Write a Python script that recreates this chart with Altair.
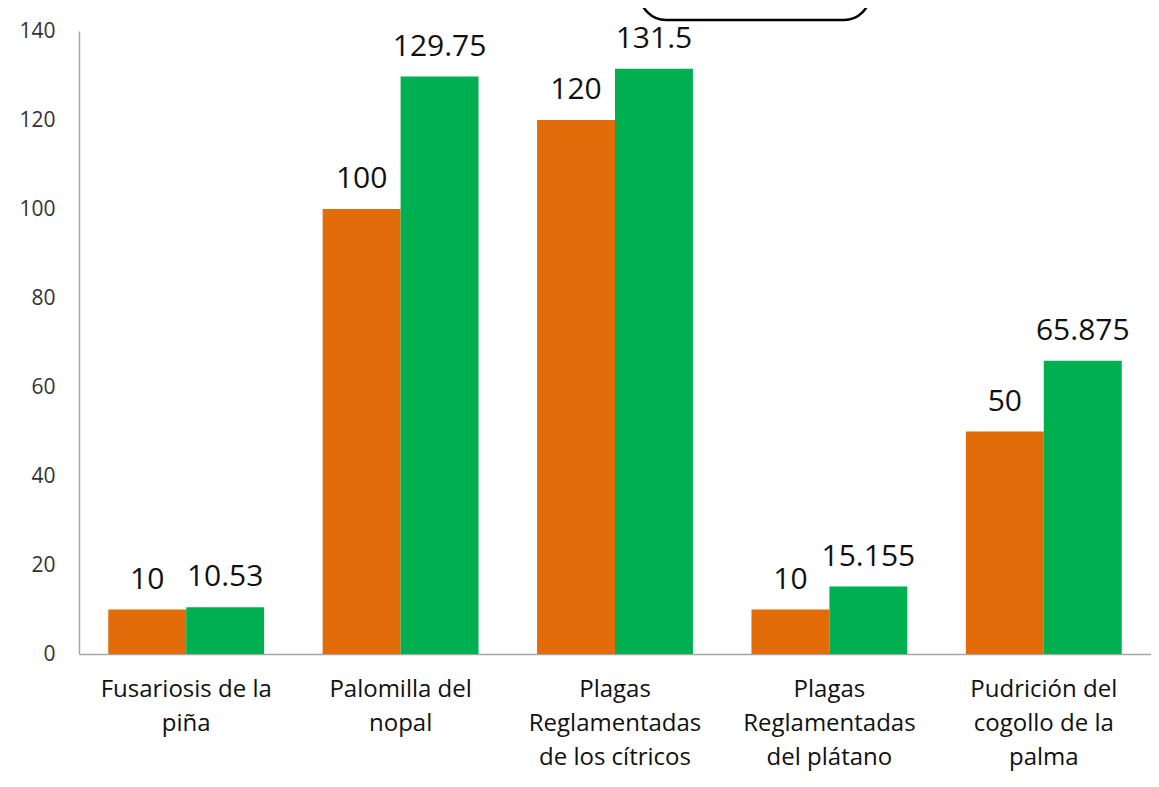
import altair as alt
import pandas as pd

categories = ["Fusariosis de la|piña", "Palomilla del|nopal", "Plagas|Reglamentadas|de los cítricos",
              "Plagas|Reglamentadas|del plátano", "Pudrición del|cogollo de la|palma"]
series_a = [10, 100, 120, 10, 50]
series_b = [10.53, 129.75, 131.5, 15.155, 65.875]
series_names = ["A", "B"]
colors = ["#E36C0A", "#00B050"]

rows = []
for c, a, b in zip(categories, series_a, series_b):
    rows.append({"cat": c, "serie": "A", "valor": a})
    rows.append({"cat": c, "serie": "B", "valor": b})
df = pd.DataFrame(rows)

FONT = "Open Sans"

x = alt.X("cat:N", sort=categories, title=None,
          scale=alt.Scale(paddingInner=0.273, paddingOuter=0.1365),
          axis=alt.Axis(labelAngle=0, labelExpr="split(datum.label, '|')",
                        labelFontSize=24, labelFont=FONT, labelColor="#111",
                        labelLineHeight=34, labelPadding=23, labelBaseline="top",
                        ticks=False, domainColor="#A6A6A6", domainWidth=1.5,
                        labelLimit=300))
xo = alt.XOffset("serie:N", sort=series_names)

bars = alt.Chart(df).mark_bar().encode(
    x=x, xOffset=xo,
    y=alt.Y("valor:Q", title=None,
            scale=alt.Scale(domain=[0, 140], nice=False),
            axis=alt.Axis(values=[0, 20, 40, 60, 80, 100, 120, 140], grid=False, ticks=False,
                          labelFontSize=21, labelFont=FONT, labelColor="#333",
                          labelPadding=24, domainColor="#A6A6A6", domainWidth=1.5)),
    color=alt.Color("serie:N", scale=alt.Scale(domain=series_names, range=colors), legend=None),
)

labels = alt.Chart(df).mark_text(fontSize=30, font=FONT, color="#111", baseline="alphabetic", dy=-21).encode(
    x=x, xOffset=xo, y="valor:Q", text=alt.Text("valor:Q")
)

box_df = pd.DataFrame({"k": [1]})
box = alt.Chart(box_df).mark_rect(fill="white", stroke="black", strokeWidth=2.5,
                                  cornerRadius=26, clip=False).encode(
    x=alt.value(561), x2=alt.value(791), y=alt.value(-80), y2=alt.value(-11)
)

chart = alt.layer(bars, labels, box).properties(
    width=1072, height=623,
    autosize=alt.AutoSizeParams(type="none"),
    padding={"left": 71, "top": 23, "right": 0, "bottom": 119},
).configure_view(stroke=None)

chart.save("out.html", embed_options={"renderer": "svg", "actions": False})
